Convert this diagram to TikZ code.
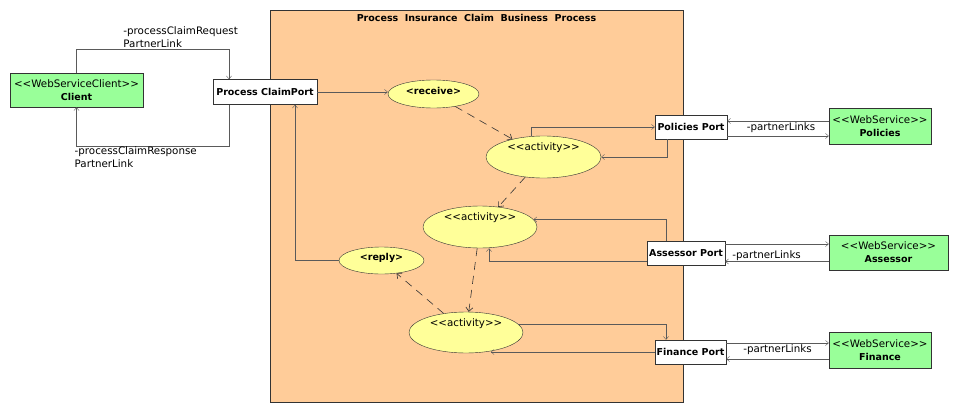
\documentclass[tikz,border=0pt]{standalone}
\usepackage{fontspec}
\setmainfont{DejaVu Sans}
\usetikzlibrary{shapes.geometric,arrows.meta}
\definecolor{procOrange}{HTML}{FFCC99}
\definecolor{servGreen}{HTML}{99FF99}
\definecolor{actYellow}{HTML}{FFFF99}
\definecolor{lineGray}{HTML}{5A5A5A}
\definecolor{edgeGray}{HTML}{333333}
\newcommand{\stereo}[1]{<{}<#1>{}>}

\begin{document}
\begin{tikzpicture}[x=1pt,y=-1pt]
    \tikzset{
        txt/.style={font=\fontsize{10.3}{13}\selectfont},
        btxt/.style={font=\fontsize{9.5}{12}\selectfont\bfseries},
        port/.style={draw=edgeGray,fill=white,btxt,inner sep=0pt},
        service/.style={draw=edgeGray,fill=servGreen,txt,align=center,inner sep=0pt},
        act/.style={ellipse,draw=edgeGray,fill=actYellow,inner sep=0pt},
        acttxt/.style={txt},
        link/.style={draw=lineGray,-{Straight Barb[length=3pt,width=5pt]}},
        flow/.style={draw=edgeGray,line width=0.6pt,dash pattern=on 8pt off 6pt,-{Straight Barb[length=4pt,width=7pt]}},
        lbl/.style={txt,inner sep=1pt,align=left}
    }
    \useasboundingbox (0,0) rectangle (958,412);

    % business process container
    \node[draw=edgeGray,fill=procOrange,minimum width=413pt,minimum height=392pt,inner sep=0pt] (proc) at (476.5,206) {};
    \node[btxt,anchor=north,inner sep=4pt] (title) at (proc.north) {Process\ \ Insurance\ \ Claim\ \ Business\ \ Process};

    % client side
    \node[service,minimum width=133pt,minimum height=34pt] (client) at (76.5,90) {\stereo{WebServiceClient}\\\textbf{\fontsize{9.5}{12}\selectfont Client}};
    \node[port,minimum width=104pt,minimum height=25pt] (pcPort) at (265,92) {Process ClaimPort};

    % activities
    \node[act,minimum width=91pt,minimum height=28pt,label={[btxt,yshift=3.5pt]center:<receive>}] (receive) at (433.5,94) {};
    \node[act,minimum width=85pt,minimum height=27pt,label={[btxt,yshift=2.5pt]center:<reply>}] (reply) at (381.5,260.5) {};
    \node[act,minimum width=115pt,minimum height=42pt,label={[acttxt,yshift=9pt]center:\stereo{activity}}] (act1) at (543.5,157) {};
    \node[act,minimum width=114pt,minimum height=42pt,label={[acttxt,yshift=9pt]center:\stereo{activity}}] (act2) at (480,227) {};
    \node[act,minimum width=114pt,minimum height=41pt,label={[acttxt,yshift=8.5pt]center:\stereo{activity}}] (act3) at (466,332.5) {};

    % ports
    \node[port,minimum width=72pt,minimum height=24pt] (polPort) at (691,127) {Policies Port};
    \node[port,minimum width=78pt,minimum height=24pt] (assPort) at (686,253) {Assessor Port};
    \node[port,minimum width=71pt,minimum height=24pt] (finPort) at (690.5,352) {Finance Port};

    % partner services
    \node[service,minimum width=102pt,minimum height=36pt] (policies) at (880,126) {\stereo{WebService}\\\textbf{\fontsize{9.5}{12}\selectfont Policies}};
    \node[service,minimum width=119pt,minimum height=35pt] (assessor) at (888.5,252.5) {\stereo{WebService}\\\textbf{\fontsize{9.5}{12}\selectfont Assessor}};
    \node[service,minimum width=102pt,minimum height=36pt] (finance) at (880,350) {\stereo{WebService}\\\textbf{\fontsize{9.5}{12}\selectfont Finance}};

    % client links
    \draw[link] (client.north) -- ++(0,-24) -| node[lbl,anchor=south west,pos=0.15] {-processClaimRequest\\PartnerLink} ([xshift=-36pt]pcPort.north);
    \draw[link] ([xshift=-36pt]pcPort.south) -- ++(0,41) -| node[lbl,anchor=north west,pos=0.5,xshift=-3pt] {-processClaimResponse\\PartnerLink} (client.south);

    % process flow
    \draw[link] (pcPort.east) -- (pcPort.east -| receive.west);
    \draw[link] (reply.west) -| ([xshift=30pt]pcPort.south);
    \draw[flow] (receive) -- (act1);
    \draw[flow] (act1) -- (act2);
    \draw[flow] (act2) -- (act3);
    \draw[flow] (act3) -- (reply);

    % activities to ports
    \draw[link] ([xshift=-12pt]act1.north) |- (polPort.west);
    \draw[link] ([xshift=-24pt]polPort.south) |- (act1.east);
    \draw[link] ([xshift=-20pt]assPort.north) |- (act2.8.6);
    \draw[link] ([yshift=-8pt]assPort.west) -| ([xshift=9pt]act2.south);
    \draw[link] (act3.9) -| ([xshift=-24.5pt]finPort.north);
    \draw[link] (finPort.west) -- (finPort.west -| act3.-37);

    % partner links
    \draw[link] ([yshift=5pt]policies.west) -- node[lbl,below,pos=0.47] {-partnerLinks} ([yshift=5pt]policies.west -| polPort.east);
    \draw[link] ([yshift=-10pt]policies.west -| polPort.east) -- ([yshift=-10pt]policies.west);
    \draw[link] ([yshift=9pt]assPort.east) -- ([yshift=9pt]assPort.east -| assessor.west);
    \draw[link] ([yshift=-9pt]assessor.west) -- node[lbl,above,pos=0.6,inner sep=0.5pt] {-partnerLinks} ([yshift=-9pt]assessor.west -| assPort.east);
    \draw[link] ([yshift=9pt]finPort.east) -- node[lbl,below,pos=0.5] {-partnerLinks} ([yshift=9pt]finPort.east -| finance.west);
    \draw[link] ([yshift=-9pt]finance.west) -- ([yshift=-9pt]finance.west -| finPort.east);
\end{tikzpicture}
\end{document}
